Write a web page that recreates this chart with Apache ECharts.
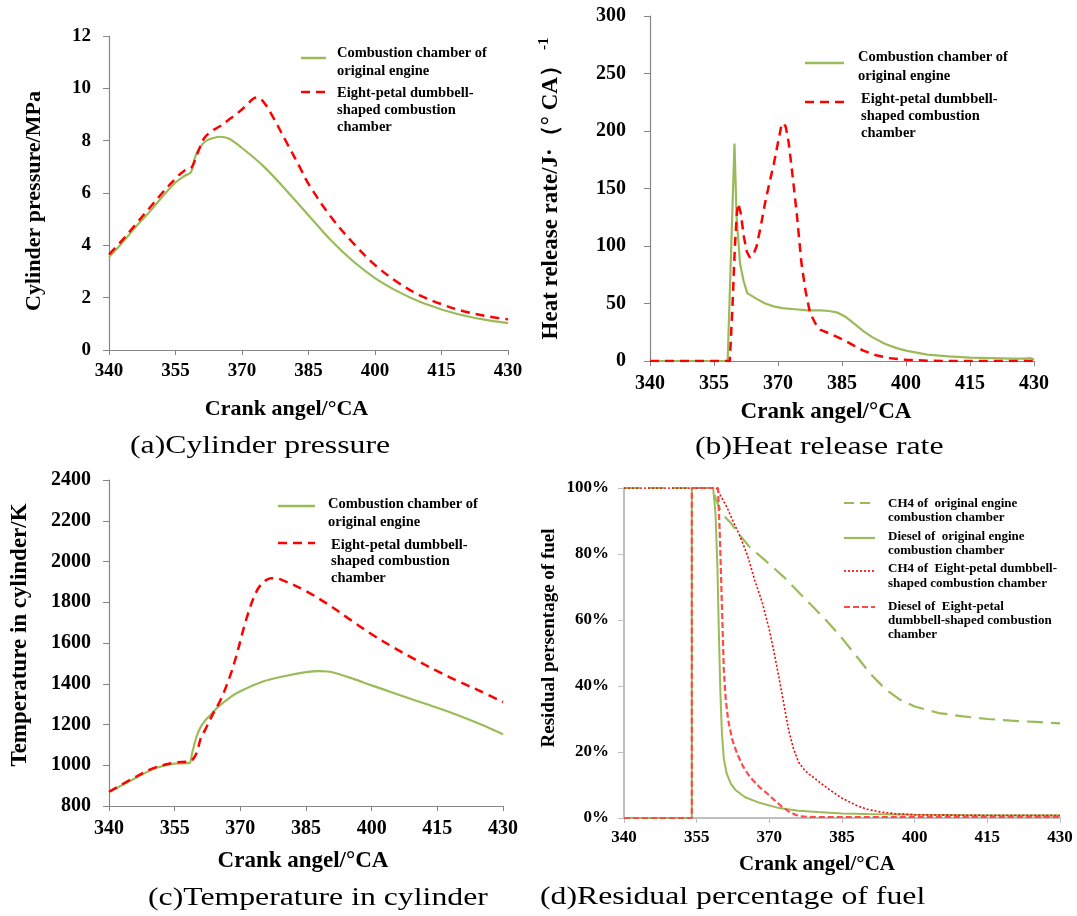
<!DOCTYPE html>
<html><head><meta charset="utf-8">
<script src="https://cdn.jsdelivr.net/npm/echarts@6/dist/echarts.min.js"></script>
<style>html,body{margin:0;padding:0;background:#fff}#c{width:1077px;height:916px}</style>
</head><body><div id="c"></div>
<script>
// ---------- axis ranges / tick labels ----------
const crankRange = [340, 430, 15];          // 340,355,...,430
const pressureRange = [0, 12, 2];
const hrrRange = [0, 300, 50];
const tempRange = [800, 2400, 200];
const fuelRange = [0, 100, 20];             // percent

// ---------- (a) cylinder pressure, MPa ----------
const pressOrigX = [340,343,346,349,352,355,357,358.5,359.3,360,361,362,363.5,365,367,370,375,380,385,390,395,400,405,410,415,420,425,430];
const pressOrigY = [3.55,4.1,4.7,5.25,5.85,6.4,6.65,6.8,7.3,7.6,7.85,8.0,8.1,8.15,8.08,7.72,7.0,6.1,5.15,4.2,3.4,2.75,2.25,1.85,1.55,1.32,1.15,1.03];
const pressEightX = [340,343,346,349,352,355,357,358.5,359.5,360.5,361.5,363,365,367,369,371,372.5,373.5,375,377,380,383,385,390,395,400,405,410,415,420,425,430];
const pressEightY = [3.65,4.2,4.8,5.4,6.0,6.55,6.85,6.95,7.3,7.75,8.1,8.35,8.55,8.8,9.05,9.35,9.6,9.65,9.45,8.9,7.95,7.0,6.35,5.1,4.1,3.25,2.6,2.1,1.75,1.48,1.3,1.17];

// ---------- (b) heat release rate ----------
const hrrOrigX = [340,357,358.2,359.8,360.3,361.1,361.9,362.8,365,367,369,371,374,377,380,382,384,386,388,390,392,395,398,400,405,410,415,420,425,428,429,430];
const hrrOrigY = [0,0,0,189,125,85,70,59,54,50,47.5,46,45,44,44,43.5,42,38,32,26,21,15,11,9,5.5,4,3,2.5,2,2,2.5,1.5];
const hrrEightX = [340,358.7,359.3,359.9,360.4,360.7,361.3,362,362.7,363.4,364.2,365,366,367,368,369,370,370.7,371.2,371.8,372.5,373.3,374.4,375.5,376.5,377.5,378.7,380,382,385,388,390,393,396,400,405,410,430];
const hrrEightY = [0,0,45,100,130,137,128,108,95,90,92,100,118,138,155,171,190,203,207,204,190,165,128,85,60,42,33,27,24,19,13,9,5,2.5,1,0.3,0,0];

// ---------- (c) temperature, K ----------
const tempOrigX = [340,345,350,353,355,358,358.5,359,360,361,362,363,364,365,368,370,375,380,385,388,390,395,400,405,410,415,420,425,430];
const tempOrigY = [868,925,980,1000,1008,1010,1012,1060,1140,1190,1220,1243,1266,1288,1338,1363,1410,1437,1457,1462,1460,1430,1392,1355,1318,1282,1243,1200,1152];
const tempEightX = [340,345,350,355,358,359,360,361,362,363,364,365,366,367,368,369,370,371,372,373,374,375,376,377,378,380,385,390,395,400,405,410,415,420,425,430];
const tempEightY = [870,930,985,1013,1018,1025,1060,1135,1175,1220,1262,1300,1345,1400,1460,1530,1610,1690,1760,1820,1865,1893,1910,1918,1918,1905,1855,1790,1716,1643,1578,1518,1462,1410,1362,1310];

// ---------- (d) residual percentage of fuel, % ----------
const ch4OrigX = [340,358.3,359,360,361,362,364,366,368,370,373,376,379,382,385,388,391,394,397,400,405,410,415,420,425,430];
const ch4OrigY = [100,100,96.5,93,91,89.5,85.5,82,79.5,77,73,68.5,64,59.5,54.5,49,43.5,39,35.8,33.8,31.8,30.8,30,29.5,29.1,28.7];
const dieselOrigX = [340,354,354,358.4,358.9,359.3,359.6,359.9,360.2,360.6,361.2,362,363,365,368,372,376,380,385,390,400,410,420,430];
const dieselOrigY = [0,0,100,100,92,75,55,38,26,18,13.5,10.5,8.5,6.3,4.6,3.0,2.2,1.8,1.4,1.2,1.0,0.9,0.85,0.8];
const ch4EightX = [340,359.1,360,361.2,362.5,364,365.5,367,368.5,370,371,372,373,374,375,376,377,378,380,382,385,388,390,393,396,400,410,420,430];
const ch4EightY = [100,100,97.5,94.3,90,85.2,79.5,72,65.5,57,50,42.5,34.5,26.5,21,17,15,13.5,11.3,9,6,3.8,2.7,1.8,1.3,1.0,0.8,0.75,0.7];
const dieselEightX = [340,354,354,359.4,359.8,360.2,360.6,361,361.5,362.3,363.3,364.5,366,368,369.5,371,372.6,374,375.5,376.5,378,380,430];
const dieselEightY = [0,0,100,100,85,65,45,36,29.7,24,19.7,15.8,12.4,9.3,7.5,5.5,3.4,2.0,0.9,0.5,0.35,0.3,0.3];

// ---------- styling ----------
const FONT = '"Liberation Serif","Times New Roman",serif';
const GREEN = '#9BBB59', RED = '#FF0000', RED2 = '#FF4A4A';
const AX = '#868686';
const zip = (xs, ys) => xs.map((x, i) => [x, ys[i]]);

const grids = [
  {left:109, top:36, width:399, height:314},
  {left:650, top:16, width:384, height:345},
  {left:109, top:480, width:394, height:326},
  {left:624, top:488, width:436, height:330}
];

function xAxis(i, o) {
  return {
    type:'value', gridIndex:i, min:crankRange[0], max:crankRange[1], interval:crankRange[2],
    axisLine:{show:true, onZero:false, lineStyle:{color:o.axc||AX, width:o.axw||1.2}},
    axisTick:{show:true, length:5, lineStyle:{color:o.axc||AX, width:1}},
    splitLine:{show:false},
    axisLabel:{color:'#000', fontFamily:FONT, fontWeight:'bold', fontSize:o.fs, margin:o.lm, formatter:v => String(v)},
    name:'Crank angel/°CA', nameLocation:'middle', nameGap:o.ng,
    nameTextStyle:{color:'#000', fontFamily:FONT, fontWeight:'bold', fontSize:o.nfs, padding:o.np||0}
  };
}
function yAxis(i, r, o) {
  return {
    type:'value', gridIndex:i, min:r[0], max:r[1], interval:r[2],
    axisLine:{show:true, onZero:false, lineStyle:{color:o.axc||AX, width:o.axw||1.2}},
    axisTick:{show:true, length:6, lineStyle:{color:o.axc||AX, width:1}},
    splitLine:{show:false},
    axisLabel:{color:'#000', fontFamily:FONT, fontWeight:'bold', fontSize:o.fs, margin:o.lm,
      formatter:v => String(v) + (o.suffix||'')},
    name:o.name, nameLocation:'middle', nameRotate:90, nameGap:o.ng,
    nameTextStyle:Object.assign({color:'#000', fontFamily:FONT, fontWeight:'bold', fontSize:o.nfs, padding:o.np||0}, o.rich?{rich:o.rich}:{})
  };
}
function line(i, name, xs, ys, color, width, dash, smooth) {
  return {
    type:'line', name, xAxisIndex:i, yAxisIndex:i, data:zip(xs, ys),
    showSymbol:false, symbol:'none', smooth:smooth||false,
    lineStyle:{color, width, type:dash||'solid', cap:'butt'}, animation:false
  };
}

// legend helpers (graphic)
function legLine(x1, x2, y, color, width, dash) {
  return {type:'line', silent:true, shape:{x1, y1:y, x2, y2:y}, style:{stroke:color, lineWidth:width, lineDash:dash||null}};
}
function legText(x, top, text, size, lh) {
  return {type:'text', silent:true, x, y:top, style:{text, fill:'#000', font:'bold '+size+'px '+FONT, align:'left', verticalAlign:'top', lineHeight:lh}};
}
function caption(x, y, text) {
  return {type:'text', silent:true, x, y, scaleX:1.27, style:{text, fill:'#000', font:'25px '+FONT, align:'left', verticalAlign:'middle'}};
}

const option = {
  backgroundColor:'#fff',
  animation:false,
  grid:grids,
  xAxis:[
    xAxis(0, {fs:19, lm:12, ng:48, nfs:22, np:[0,44,0,0]}),
    xAxis(1, {fs:20, lm:13, ng:40, nfs:23, np:[0,32,0,0]}),
    xAxis(2, {fs:20, lm:13, ng:44, nfs:23, np:[0,6,0,0]}),
    xAxis(3, {fs:17, lm:11, ng:36, nfs:21, np:[0,50,0,0], axc:'#BFBFBF', axw:2})
  ],
  yAxis:[
    yAxis(0, pressureRange, {fs:19, lm:18, name:'Cylinder pressure/MPa', ng:64, nfs:22, np:[0,16,0,0]}),
    yAxis(1, hrrRange, {fs:20, lm:24, name:'Heat release rate/J·（° CA）{s|-1}', ng:84, nfs:23,
      rich:{s:{fontFamily:FONT, fontWeight:'bold', fontSize:15, color:'#000', padding:[0,0,14,4]}}}),
    yAxis(2, tempRange, {fs:20, lm:18, name:'Temperature in cylinder/K', ng:77, nfs:23, np:[0,0,0,16]}),
    yAxis(3, fuelRange, {fs:17, lm:15, name:'Residual persentage of fuel', ng:65, nfs:19, np:[0,0,0,30], suffix:'%', axc:'#BFBFBF', axw:2})
  ],
  series:[
    line(0, 'Combustion chamber of original engine', pressOrigX, pressOrigY, GREEN, 2.2, 'solid', 0.35),
    line(0, 'Eight-petal dumbbell-shaped combustion chamber', pressEightX, pressEightY, RED, 2.5, [9,6], 0.35),
    line(1, 'Combustion chamber of original engine', hrrOrigX, hrrOrigY, GREEN, 2.2, 'solid'),
    line(1, 'Eight-petal dumbbell-shaped combustion chamber', hrrEightX, hrrEightY, RED, 2.5, [9,6]),
    line(2, 'Combustion chamber of original engine', tempOrigX, tempOrigY, GREEN, 2.2, 'solid', 0.35),
    line(2, 'Eight-petal dumbbell-shaped combustion chamber', tempEightX, tempEightY, RED, 2.5, [9,6], 0.35),
    line(3, 'CH4 of original engine combustion chamber', ch4OrigX, ch4OrigY, GREEN, 2.2, [16,8]),
    line(3, 'Diesel of original engine combustion chamber', dieselOrigX, dieselOrigY, GREEN, 2, 'solid'),
    line(3, 'CH4 of Eight-petal dumbbell-shaped combustion chamber', ch4EightX, ch4EightY, RED, 1.6, [2,2]),
    line(3, 'Diesel of Eight-petal dumbbell-shaped combustion chamber', dieselEightX, dieselEightY, RED2, 2.2, [6,3])
  ],
  graphic:[
    // legend (a)
    legLine(301, 326, 58, GREEN, 2.5), legText(337, 44, 'Combustion chamber of\noriginal engine', 14.5, 18),
    legLine(301, 326, 92, RED, 2.5, [9,6]), legText(337, 84.5, 'Eight-petal dumbbell-\nshaped combustion\nchamber', 14.5, 17),
    // legend (b)
    legLine(805, 844, 63, GREEN, 2.5), legText(858, 47.5, 'Combustion chamber of\noriginal engine', 14.5, 19),
    legLine(805, 844, 102, RED, 2.5, [9,6]), legText(861, 90.5, 'Eight-petal dumbbell-\nshaped combustion\nchamber', 14.5, 17),
    // legend (c)
    legLine(278, 315, 506, GREEN, 2.5), legText(328, 495, 'Combustion chamber of\noriginal engine', 14.5, 18),
    legLine(278, 315, 543, RED, 2.5, [9,6]), legText(331, 536.5, 'Eight-petal dumbbell-\nshaped combustion\nchamber', 14.5, 16.5),
    // legend (d)
    legLine(844, 875, 503, GREEN, 2.2, [10,6]), legText(888, 497, 'CH4 of  original engine\ncombustion chamber', 13, 13.5),
    legLine(844, 875, 538, GREEN, 2.2), legText(888, 529, 'Diesel of  original engine\ncombustion chamber', 13, 14.5),
    legLine(844, 875, 571, RED, 1.6, [2,2]), legText(888, 561.5, 'CH4 of  Eight-petal dumbbell-\nshaped combustion chamber', 13, 15),
    legLine(844, 875, 607, RED2, 2.2, [6,3]), legText(888, 600, 'Diesel of  Eight-petal\ndumbbell-shaped combustion\nchamber', 13, 14),
    // captions
    caption(130, 446, '(a)Cylinder pressure'),
    caption(695, 447, '(b)Heat release rate'),
    caption(148, 898, '(c)Temperature in cylinder'),
    caption(540, 897, '(d)Residual percentage of fuel')
  ]
};
const chart = echarts.init(document.getElementById('c'), null, {renderer:'canvas'});
chart.setOption(option);
</script>
</body></html>
